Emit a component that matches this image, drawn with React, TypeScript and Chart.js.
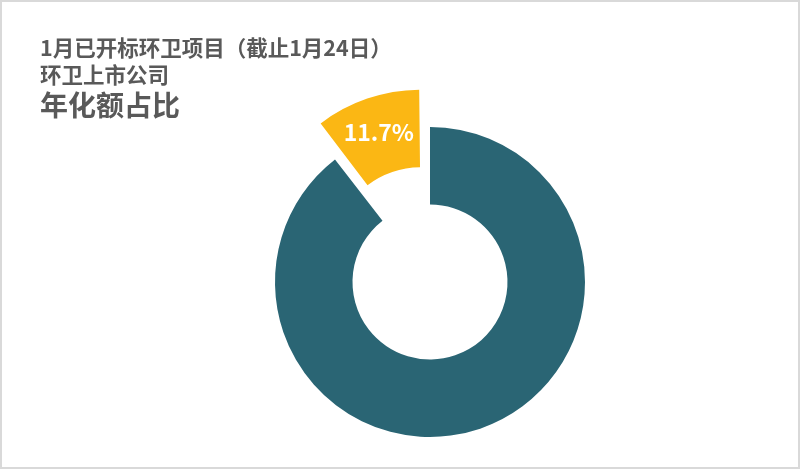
import { useEffect, useRef } from "react"
import { Chart, registerables, type Plugin } from "chart.js"

Chart.register(...registerables)

// 数据（扇区角度按原图量取，标注文字按原图）
const labels = ["其他", "环卫上市公司"]
const shares = [89.5, 10.5]
const sliceText = ["", "11.7%"]
const colors = ["#2a6574", "#fbb714"]
const titleLines = ["1月已开标环卫项目（截止1月24日）", "环卫上市公司"]
const subTitle = "年化额占比"

// Chart.js 实际平移 offset/4 像素
const EXPLODE = 28

// 在突出的扇区上写百分比
const sliceLabel: Plugin<"doughnut"> = {
  id: "sliceLabel",
  afterDatasetsDraw(chart) {
    const meta = chart.getDatasetMeta(0)
    const ctx = chart.ctx
    meta.data.forEach((el: any, i) => {
      if (!sliceText[i]) return
      const { x, y, startAngle, endAngle, innerRadius, outerRadius } = el
      const mid = (startAngle + endAngle) / 2
      const fix = 1 - Math.sin(Math.min(Math.PI, endAngle - startAngle))
      const r = (innerRadius + outerRadius) / 2 + EXPLODE * (1 + fix) + 3
      ctx.save()
      ctx.fillStyle = "#ffffff"
      ctx.font = "bold 23px 'Noto Sans CJK SC', 'Noto Sans', sans-serif"
      ctx.textAlign = "center"
      ctx.textBaseline = "middle"
      ctx.fillText(sliceText[i], x + Math.cos(mid) * r, y + Math.sin(mid) * r)
      ctx.restore()
    })
  },
}

export default function App() {
  const chartRef = useRef<HTMLCanvasElement>(null)
  const chartInstance = useRef<Chart | null>(null)

  useEffect(() => {
    if (!chartRef.current) return
    if (chartInstance.current) chartInstance.current.destroy()

    chartInstance.current = new Chart(chartRef.current, {
      type: "doughnut",
      data: {
        labels,
        datasets: [
          {
            data: shares,
            backgroundColor: colors,
            borderWidth: 0,
            offset: [0, EXPLODE * 4],
            hoverOffset: 0,
          },
        ],
      },
      options: {
        responsive: false,
        animation: false,
        cutout: "50%",
        layout: {
          padding: { left: 219, right: 159, top: 71, bottom: 67 },
        },
        plugins: {
          legend: { display: false },
          tooltip: { enabled: false },
        },
      },
      plugins: [sliceLabel],
    })

    return () => {
      if (chartInstance.current) {
        chartInstance.current.destroy()
        chartInstance.current = null
      }
    }
  }, [])

  const font = "'Noto Sans CJK SC', 'Noto Sans', sans-serif"

  return (
    <div
      style={{
        position: "fixed",
        left: 0,
        top: 0,
        width: 800,
        height: 469,
        boxSizing: "border-box",
        border: "2px solid #d9d9d9",
        background: "#fff",
        overflow: "hidden",
      }}
    >
      <canvas
        ref={chartRef}
        width={800}
        height={560}
        style={{ position: "absolute", left: -2, top: -2, width: 800, height: 560 }}
      ></canvas>
      <div
        style={{
          position: "absolute",
          left: 38,
          top: 32,
          color: "#595959",
          fontFamily: font,
          fontWeight: 700,
          lineHeight: 1.25,
        }}
      >
        {titleLines.map((t) => (
          <div key={t} style={{ fontSize: 21.5 }}>
            {t}
          </div>
        ))}
        <div style={{ fontSize: 28, lineHeight: 1.2 }}>{subTitle}</div>
      </div>
    </div>
  )
}
